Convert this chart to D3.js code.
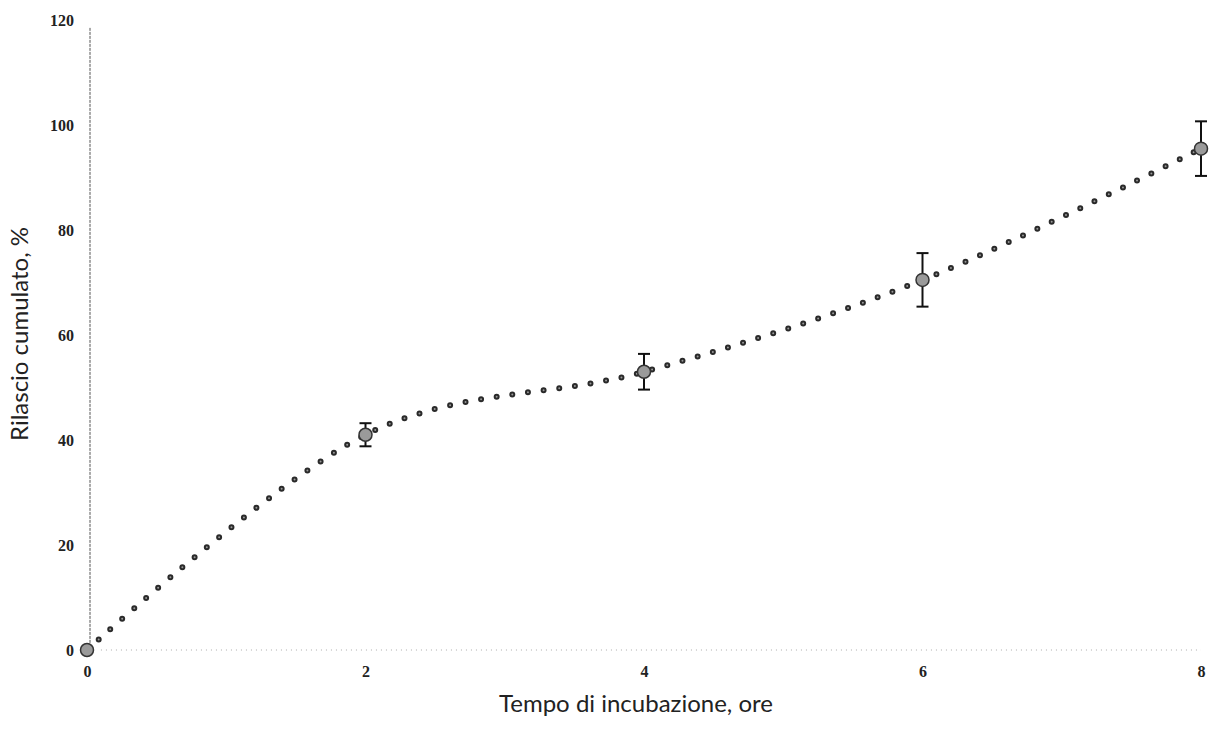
<!DOCTYPE html>
<html>
<head>
<meta charset="utf-8">
<script src="https://cdn.jsdelivr.net/npm/d3@7"></script>
<style>
  body { margin: 0; background: #fff; }
  .tick text { font-family: "Liberation Serif", serif; font-weight: bold; font-size: 16px; fill: #222; }
  .title { font-family: Lato, "Open Sans", sans-serif; font-size: 24px; fill: #222; }
</style>
</head>
<body>
<svg width="1223" height="729"></svg>
<script>
// data
const hours = [0, 2, 4, 6, 8];
const release = [0, 41, 53, 70.5, 95.5];
const errors = [0, 2.2, 3.4, 5.1, 5.2];
const xTicks = [0, 2, 4, 6, 8];
const yTicks = [0, 20, 40, 60, 80, 100, 120];

const svg = d3.select("svg");
const g = svg.append("g");

const x = d3.scaleLinear().domain([0, 8]).range([87, 1201]);
const y = d3.scaleLinear().domain([0, 120]).range([650, 20]);

const pts = hours.map((h, i) => ({ h: h, v: release[i], e: errors[i] }));

// axes (no tick marks, no domain — drawn by hand below)
const xAxis = g.append("g")
  .attr("transform", "translate(0,666)")
  .call(d3.axisBottom(x).tickValues(xTicks).tickSize(0).tickPadding(0));
xAxis.select(".domain").remove();

const yAxis = g.append("g")
  .attr("transform", "translate(74,0)")
  .call(d3.axisLeft(y).tickValues(yTicks).tickSize(0).tickPadding(0));
yAxis.select(".domain").remove();
yAxis.selectAll(".tick text").attr("dy", "0.32em");

// faint axis lines
g.append("line")
  .attr("x1", 90).attr("x2", 90)
  .attr("y1", y(118.5)).attr("y2", y(0))
  .attr("stroke", "#555").attr("stroke-width", 1)
  .attr("stroke-dasharray", "3 1");
g.append("line")
  .attr("x1", x(0.1)).attr("x2", x(8))
  .attr("y1", y(0)).attr("y2", y(0))
  .attr("stroke", "#aaa").attr("stroke-width", 1)
  .attr("stroke-dasharray", "1 4");

// smoothed round-dot line
const line = d3.line()
  .x(d => x(d.h)).y(d => y(d.v))
  .curve(d3.curveCardinal.tension(0));

g.append("path")
  .datum(pts)
  .attr("d", line)
  .attr("fill", "none")
  .attr("stroke", "#2a2a2a")
  .attr("stroke-width", 6)
  .attr("stroke-linecap", "round")
  .attr("stroke-dasharray", "0 15.8");
g.append("path")
  .datum(pts)
  .attr("d", line)
  .attr("fill", "none")
  .attr("stroke", "#999")
  .attr("stroke-width", 2)
  .attr("stroke-linecap", "round")
  .attr("stroke-dasharray", "0 15.8");

// error bars
const eb = g.selectAll(".err").data(pts.filter(d => d.e > 0)).enter().append("g");
eb.append("line")
  .attr("x1", d => x(d.h)).attr("x2", d => x(d.h))
  .attr("y1", d => y(d.v + d.e)).attr("y2", d => y(d.v - d.e))
  .attr("stroke", "#111").attr("stroke-width", 2);
[1, -1].forEach(s => {
  eb.append("line")
    .attr("x1", d => x(d.h) - 6).attr("x2", d => x(d.h) + 6)
    .attr("y1", d => y(d.v + s * d.e)).attr("y2", d => y(d.v + s * d.e))
    .attr("stroke", "#111").attr("stroke-width", 2);
});

// markers
g.selectAll(".pt").data(pts).enter().append("circle")
  .attr("cx", d => x(d.h)).attr("cy", d => y(d.v))
  .attr("r", 6.5)
  .attr("fill", "#9a9a9a")
  .attr("stroke", "#333").attr("stroke-width", 1.5);

// titles
svg.append("text").attr("class", "title")
  .attr("x", 636).attr("y", 712)
  .attr("text-anchor", "middle")
  .text("Tempo di incubazione, ore");
svg.append("text").attr("class", "title")
  .attr("transform", "translate(28,334) rotate(-90)")
  .attr("text-anchor", "middle")
  .text("Rilascio cumulato, %");
</script>
</body>
</html>
